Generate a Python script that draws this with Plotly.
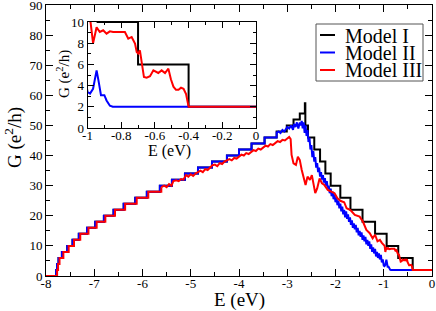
import plotly.graph_objects as go

# ---------------- data ----------------
# Model I (black): staircase, (E, G) step starts (hv shape)
black_E = [-8.00, -7.79, -7.77, -7.74, -7.67, -7.56, -7.45, -7.32, -7.15, -6.98,
           -6.80, -6.60, -6.39, -6.15, -5.91, -5.64, -5.39, -5.12, -4.85, -4.56,
           -4.25, -4.00, -3.74, -3.47, -3.22, -3.01, -2.87, -2.74, -2.635, -2.625,
           -2.57, -2.44, -2.32, -2.21, -2.10, -1.90, -1.69, -1.44, -1.18, -0.94,
           -0.70, -0.40, 0.00]
black_G = [0, 2, 4, 6, 8, 10, 12, 14, 16, 18,
           20, 22, 24, 26, 28, 30, 32, 34, 36, 38,
           40, 42, 44, 46, 48, 50, 52, 54, 57.4, 50,
           46, 42, 38, 34, 30, 26, 22, 18, 14, 10,
           6, 2, 2]

# Model II (blue): same staircase at low energy, then noisy
blue_stair_E = black_E[:25]
blue_stair_G = black_G[:25]
blue_E = [-3.22, -3.18, -3.14, -3.10, -3.06, -3.02, -3.00, -2.96, -2.92, -2.88,
          -2.86, -2.83, -2.80, -2.77, -2.74, -2.72, -2.70, -2.68, -2.66, -2.64,
          -2.62, -2.60, -2.58, -2.56, -2.54, -2.52, -2.50, -2.48, -2.46, -2.44,
          -2.42, -2.40, -2.38, -2.36, -2.34, -2.32, -2.30, -2.28, -2.26, -2.24,
          -2.22, -2.20, -2.18, -2.16, -2.14, -2.12, -2.10, -2.08, -2.06, -2.04,
          -2.02, -2.00, -1.98, -1.96, -1.94, -1.92, -1.90, -1.88, -1.86, -1.84,
          -1.82, -1.80, -1.78, -1.76, -1.74, -1.72, -1.70, -1.68, -1.66, -1.64,
          -1.62, -1.60, -1.58, -1.56, -1.54, -1.52, -1.50, -1.48, -1.46, -1.44,
          -1.42, -1.40, -1.38, -1.36, -1.34, -1.32, -1.30, -1.28, -1.26, -1.24,
          -1.22, -1.20, -1.18, -1.16, -1.14, -1.12, -1.10, -1.08, -1.06, -1.04,
          -1.02, -1.00, -0.985, -0.967, -0.955, -0.946, -0.935, -0.92, -0.90, -0.887,
          -0.867, -0.85, 0.00]
blue_G = [47.5, 48, 47.5, 48.5, 48, 49, 49.5, 49, 50, 48.5,
          50.5, 49.5, 51, 49, 51, 50, 51.5, 49, 51, 47.5,
          50, 46.5, 48.5, 44.5, 46, 42, 43.5, 39.5, 41.5, 38,
          39.5, 36, 37.5, 34.5, 36, 33, 34.5, 32, 33.5, 31,
          32.5, 30, 31.5, 29, 30, 27.5, 29, 26.5, 28, 25.5,
          27, 24.5, 26, 23.5, 25, 22.5, 24, 21.5, 23, 20.5,
          22, 19.5, 21.5, 19, 20.5, 18, 19.5, 17, 18.5, 16,
          17.5, 15.5, 17, 14.5, 16, 13.5, 15, 13, 14.5, 12,
          13.5, 11.5, 13, 10.5, 12, 10, 11.5, 9, 10.5, 8,
          9.5, 7.5, 9, 6.5, 8, 6, 7.5, 5.5, 7, 4.5,
          5.5, 3.4, 3.25, 3.7, 4.6, 5.44, 4.5, 3.1, 3.1, 2.6,
          2.1, 2.0, 2.0]

# Model III (red): slightly lagging staircase, then noisy
red_stair_E = [-8.00, -7.77, -7.75, -7.72, -7.64, -7.53, -7.42, -7.29, -7.12, -6.95,
               -6.77, -6.57, -6.36, -6.12, -5.88, -5.61]
red_stair_G = [0, 2, 4, 6, 8, 10, 12, 14, 16, 18,
               20, 22, 24, 26, 28, 29.5]
red_E = [-5.61, -5.55, -5.50, -5.45, -5.40, -5.36, -5.30, -5.25, -5.20, -5.15,
         -5.10, -5.05, -5.00, -4.95, -4.90, -4.85, -4.80, -4.75, -4.70, -4.65,
         -4.60, -4.55, -4.50, -4.45, -4.40, -4.35, -4.30, -4.25, -4.20, -4.15,
         -4.10, -4.05, -4.00, -3.95, -3.90, -3.85, -3.80, -3.75, -3.70, -3.65,
         -3.60, -3.55, -3.50, -3.45, -3.40, -3.35, -3.30, -3.25, -3.20, -3.15,
         -3.10, -3.05, -3.00, -2.96, -2.93, -2.91, -2.87, -2.82, -2.78, -2.74,
         -2.70, -2.65, -2.62, -2.58, -2.53, -2.49, -2.45, -2.42, -2.38, -2.33,
         -2.28, -2.23, -2.16, -2.09, -2.02, -1.96, -1.89, -1.82, -1.77, -1.69,
         -1.60, -1.50, -1.43, -1.36, -1.29, -1.23, -1.18, -1.13, -1.08, -1.04,
         -1.00, -0.982, -0.967, -0.946, -0.927, -0.907, -0.887, -0.867, -0.848, -0.778,
         -0.758, -0.738, -0.718, -0.708, -0.699, -0.689, -0.665, -0.649, -0.629, -0.609,
         -0.58, -0.56, -0.54, -0.52, -0.505, -0.49, -0.475, -0.46, -0.445, -0.43,
         -0.415, -0.405, -0.40, 0.00]
red_G = [29.5, 30, 29.5, 30.5, 30, 31.5, 31.8, 31.5, 32.2, 32,
         33.5, 33, 33.8, 33.2, 34, 34.5, 35, 34.5, 35.5, 35.2,
         36, 36.8, 37, 36.5, 37.5, 37.2, 38, 38.5, 38.8, 38.4,
         39.2, 39, 39.8, 40.3, 40, 40.8, 40.5, 41.3, 41.8, 41.5,
         42.3, 42, 42.8, 43.3, 43, 43.8, 43.5, 44.3, 44.8, 44.5,
         45.2, 45, 45.6, 46.2, 45.5, 40.2, 37.4, 36.9, 39.6, 38.5,
         35.2, 32.4, 30.2, 33, 31.9, 33.5, 30.2, 27.5, 29.1, 32.4,
         30.8, 30.2, 28.6, 28, 27.5, 25.8, 24.9, 24.5, 22.5, 21.9,
         20.3, 19.7, 18, 15.3, 14.2, 12.5, 13.7, 11.5, 12, 11,
         10.3, 10.0, 8.0, 9.5, 9.06, 9.22, 8.9, 9.12, 9.06, 9.06,
         8.43, 8.59, 7.96, 7.17, 7.02, 7.33, 4.81, 4.75, 4.88, 5.44,
         5.19, 5.44, 5.19, 5.6, 4.6, 3.9, 3.6, 3.6, 3.8, 3.7,
         3.2, 2.5, 2.0, 2.0]

names = ["Model I", "Model II", "Model III"]
colors = ["#000000", "#0000ff", "#ff0000"]

main_xticks = [-8, -7, -6, -5, -4, -3, -2, -1, 0]
main_xticklabels = ["-8", "-7", "-6", "-5", "-4", "-3", "-2", "-1", "0"]
main_yticks = [0, 10, 20, 30, 40, 50, 60, 70, 80, 90]
inset_xticks = [-1, -0.8, -0.6, -0.4, -0.2, 0]
inset_xticklabels = ["-1", "-0.8", "-0.6", "-0.4", "-0.2", "0"]
inset_yticks = [0, 2, 4, 6, 8, 10]

# ---------------- figure ----------------
FONT = "Liberation Serif"
LW = 2
W, H = 436, 311
ML, MR, MT, MB = 46, 4, 5, 35
PW, PH = W - ML - MR, H - MT - MB


def px(x):
    return (x - ML) / PW


def py(y):
    return (H - MB - y) / PH


fig = go.Figure()

for xa, ya in [("x", "y"), ("x2", "y2")]:
    fig.add_trace(go.Scatter(x=black_E, y=black_G, mode="lines", line_shape="hv",
                             line=dict(color=colors[0], width=LW), name=names[0],
                             showlegend=False, xaxis=xa, yaxis=ya))
    fig.add_trace(go.Scatter(x=blue_stair_E + [blue_E[0]], y=blue_stair_G + [blue_G[0]],
                             mode="lines", line_shape="hv",
                             line=dict(color=colors[1], width=LW), name=names[1],
                             showlegend=False, xaxis=xa, yaxis=ya))
    fig.add_trace(go.Scatter(x=blue_E, y=blue_G, mode="lines",
                             line=dict(color=colors[1], width=LW), name=names[1],
                             showlegend=False, xaxis=xa, yaxis=ya))
    fig.add_trace(go.Scatter(x=red_stair_E + [red_E[0]], y=red_stair_G + [red_G[0]],
                             mode="lines", line_shape="hv",
                             line=dict(color=colors[2], width=LW), name=names[2],
                             showlegend=False, xaxis=xa, yaxis=ya))
    fig.add_trace(go.Scatter(x=red_E, y=red_G, mode="lines",
                             line=dict(color=colors[2], width=LW), name=names[2],
                             showlegend=False, xaxis=xa, yaxis=ya))

axis_common = dict(showline=True, linecolor="black", linewidth=1, mirror="allticks",
                   ticks="inside", tickcolor="black", showgrid=False, zeroline=False,
                   automargin=False, ticklabeloverflow="allow",
                   tickfont=dict(family=FONT, size=13, color="black"))

# legend drawn as a boxed key
shapes = [dict(type="rect", xref="paper", yref="paper",
               x0=px(316), x1=px(423), y0=py(81), y1=py(24),
               line=dict(color="#555555", width=1), fillcolor="white", layer="above")]
annotations = []
rows = [35, 52.5, 70]
for name, col, ry in zip(names, colors, rows):
    shapes.append(dict(type="line", xref="paper", yref="paper",
                       x0=px(320), x1=px(335), y0=py(ry), y1=py(ry),
                       line=dict(color=col, width=LW), layer="above"))
    annotations.append(dict(text=name, xref="paper", yref="paper", x=px(343), y=py(ry + 0.5),
                            xanchor="left", yanchor="middle", showarrow=False,
                            font=dict(family=FONT, size=20, color="black")))

# axis titles
annotations += [
    dict(text="E (eV)", xref="paper", yref="paper", x=px(239), y=py(300),
         xanchor="center", yanchor="middle", showarrow=False,
         font=dict(family=FONT, size=19, color="black")),
    dict(text="G (e<sup>2</sup>/h)", xref="paper", yref="paper", x=px(13), y=py(138),
         xanchor="center", yanchor="middle", showarrow=False, textangle=-90,
         font=dict(family=FONT, size=19, color="black")),
    dict(text="E (eV)", xref="paper", yref="paper", x=px(169), y=py(151),
         xanchor="center", yanchor="middle", showarrow=False,
         font=dict(family=FONT, size=16, color="black")),
    dict(text="G (e<sup>2</sup>/h)", xref="paper", yref="paper", x=px(63), y=py(74),
         xanchor="center", yanchor="middle", showarrow=False, textangle=-90,
         font=dict(family=FONT, size=15, color="black")),
]

fig.update_layout(
    width=W, height=H,
    margin=dict(l=ML, r=MR, t=MT, b=MB),
    paper_bgcolor="white", plot_bgcolor="white",
    font=dict(family=FONT, color="black"),
    xaxis=dict(range=[-8, 0], domain=[0, 1], tickvals=main_xticks, ticktext=main_xticklabels,
               ticklen=7, ticklabelstandoff=-5,
               minor=dict(dtick=0.5, tick0=-8, ticks="inside", ticklen=4, tickcolor="black"),
               **axis_common),
    yaxis=dict(range=[0, 90], domain=[0, 1], tickvals=main_yticks,
               ticklen=7, minor=dict(dtick=5, tick0=0, ticks="inside", ticklen=4, tickcolor="black"),
               **axis_common),
    xaxis2=dict(range=[-1, 0], domain=[px(87.5), px(256)], anchor="y2",
                tickvals=inset_xticks, ticktext=inset_xticklabels, ticklen=6,
                ticklabelstandoff=-5,
                minor=dict(dtick=0.1, tick0=-1, ticks="inside", ticklen=3, tickcolor="black"),
                **axis_common),
    yaxis2=dict(range=[0, 10.05], domain=[py(128), py(21.5)], anchor="x2",
                tickvals=inset_yticks, ticklen=6,
                minor=dict(dtick=1, tick0=0, ticks="inside", ticklen=3, tickcolor="black"),
                **axis_common),
    shapes=shapes,
    annotations=annotations,
    showlegend=False,
)

fig.write_html("out.html", config={"displayModeBar": False},
               post_script="document.body.style.margin='0px';document.body.style.overflow='hidden';")
